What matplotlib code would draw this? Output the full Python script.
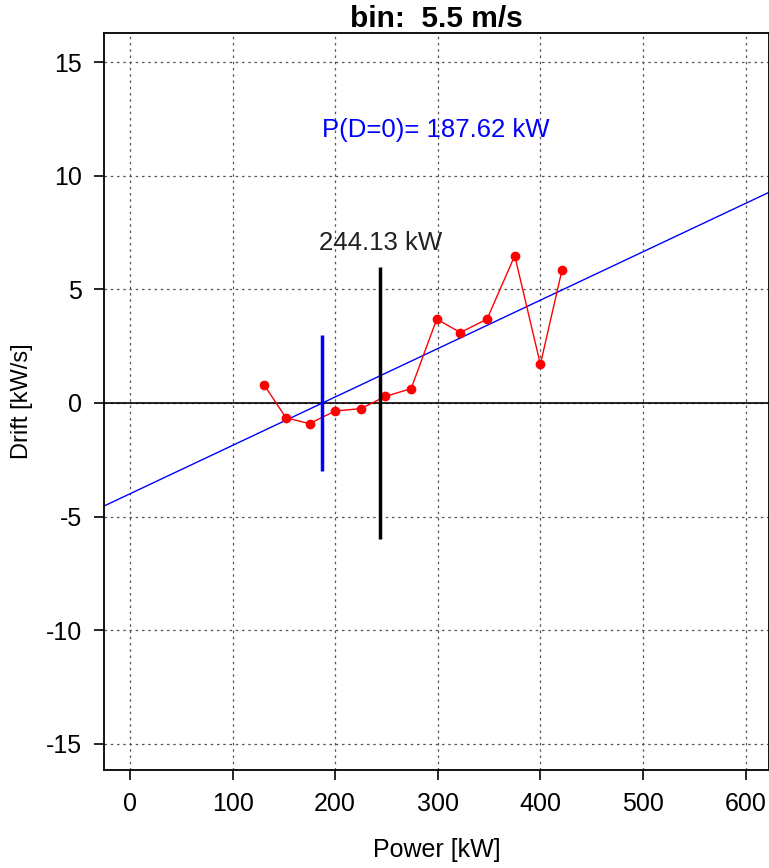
import matplotlib.pyplot as plt
import numpy as np

plt.rcParams['font.family'] = ['Liberation Sans', 'DejaVu Sans']
plt.rcParams['axes.unicode_minus'] = False

# Data:

power = [131, 152, 175, 200, 225, 249, 274, 299, 322, 348, 375, 400, 421]
drift = [0.78, -0.65, -0.91, -0.35, -0.25, 0.29, 0.63, 3.69, 3.10, 3.69, 6.48, 1.70, 5.84]

p_zero = 187.62       # P(D=0)
p_black = 244.13
slope = 0.0213
intercept = -slope * p_zero

x_ticks = [0, 100, 200, 300, 400, 500, 600]
y_ticks = [-15, -10, -5, 0, 5, 10, 15]

# Plotting:

fig = plt.figure(figsize=(7.69, 8.68), dpi=100)
ax = fig.add_axes([104 / 769, 98 / 868, 1 - 104 / 769, (770 - 33) / 868])

ax.set_xlim(-25.3, 622.8)
ax.set_ylim(-16.15, 16.28)

ax.set_xticks(x_ticks)
ax.set_yticks(y_ticks)
ax.grid(True, ls=(0, (2, 3)), color='#555555', lw=0.9)
ax.set_axisbelow(True)

ax.axhline(0, color='black', lw=1.2)

x_lin = np.linspace(-30, 630, 10)
ax.plot(x_lin, intercept + slope * x_lin, color='blue', lw=1)

ax.plot(power, drift, color='red', lw=1, marker='o', ms=6)

ax.vlines(p_zero, -3, 3, color='blue', lw=2.5)
ax.vlines(p_black, -6, 6, color='black', lw=2.5)

ax.text(p_black, 6.5, '%.2f kW' % p_black, ha='center', va='bottom', fontsize=18.5, color='#222222')
ax.text(298, 12.0, 'P(D=0)= %.2f kW' % p_zero, ha='center', va='center', fontsize=18.5, color='blue')

ax.set_title('bin:  5.5 m/s', fontsize=21.5, fontweight='bold', pad=-6)
ax.set_xlabel('Power [kW]', fontsize=18, labelpad=16)
ax.set_ylabel('Drift [kW/s]', fontsize=17, labelpad=9)

ax.tick_params(direction='out', length=7, width=1.2, labelsize=18, pad=9, color='black')
for s in ax.spines.values():
    s.set_linewidth(1.3)

plt.savefig('out.png', dpi=100)
